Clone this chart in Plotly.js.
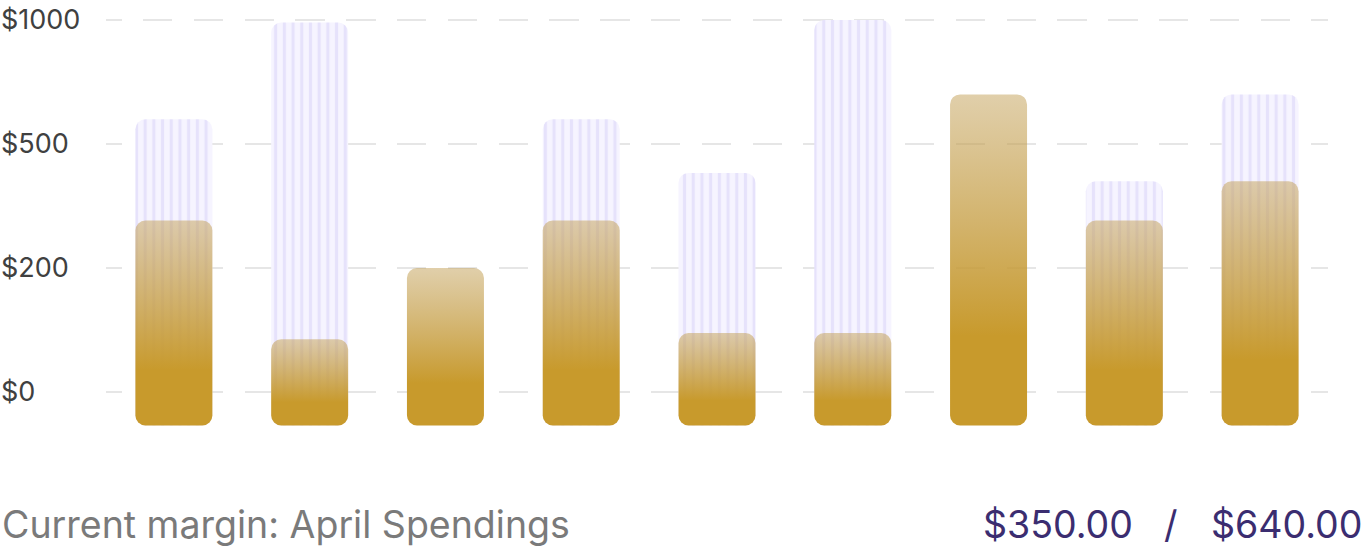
<!DOCTYPE html>
<html><head><meta charset="utf-8">
<script src="https://cdn.plot.ly/plotly-3.0.1.min.js"></script>
<style>html,body{margin:0;padding:0;background:#fff;} #chart{width:1366px;height:552px;}</style>
</head><body><div id="chart"></div>
<script>
// ---- data ----
const months = ['Jan','Feb','Mar','Apr','May','Jun','Jul','Aug','Sep'];
const spent  = [315, 85, 200, 315, 95, 95, 700, 315, 410];
const budget = [600, 990, null, 600, 430, 1000, null, 410, 700];
const tickValues = [0, 200, 500, 1000];
const tickLabels = ['$0', '$200', '$500', '$1000'];
const footerLabel = 'Current margin: April Spendings';
const footerSpent = '$350.00';
const footerBudget = '$640.00';

// piecewise-linear scale: each tick interval occupies one equal band on the axis
function toAxis(v){
  if (v == null) return null;
  const t = tickValues;
  let i = 0;
  while (i < t.length - 2 && v > t[i+1]) i++;
  return i + (v - t[i]) / (t[i+1] - t[i]);
}
const BASE = -0.27;
const tickPos = tickValues.map(toAxis);

const W = 1366, H = 552, MT = 10, MB = 112;
const plotH = H - MT - MB;
const py = Y => (H - MB - Y) / plotH;   // pixel -> paper y
const px = X => X / W;

const data = [
  {
    type: 'bar', x: months,
    y: budget.map(v => v == null ? null : toAxis(v) - BASE),
    base: BASE,
    marker: {
      color: '#f5f3ff',
      line: {width: 0},
      pattern: {shape: '|', fgcolor: '#e6e2fb', bgcolor: '#f6f4ff', size: 8.7, solidity: 0.35}
    },
    hoverinfo: 'skip'
  },
  {
    type: 'bar', x: months,
    y: spent.map(v => toAxis(v) - BASE),
    base: BASE,
    marker: {color: '#c89a2c', line: {width: 0}},
    hoverinfo: 'skip'
  }
];

let dash = '15.5px,21.5px';
for (let i = 0; i < 30; i++) dash += ',29.3px,21.5px';

const FOOT = 37.5;
const layout = {
  width: W, height: H,
  margin: {l: 0, r: 0, t: MT, b: MB, pad: 0},
  paper_bgcolor: '#ffffff', plot_bgcolor: '#ffffff',
  showlegend: false,
  barmode: 'overlay',
  bargap: 0.433,
  barcornerradius: 10,
  font: {family: 'Inter, sans-serif'},
  xaxis: {
    domain: [106 / W, 1328 / W],
    type: 'category', range: [-0.5, 8.5],
    showticklabels: false, showgrid: false, zeroline: false, showline: false, ticks: ''
  },
  yaxis: {
    anchor: 'free', position: 0,
    range: [-(H - MB - 392) / 124, 3 + (20 - MT) / 124],
    tickmode: 'array', tickvals: tickPos, ticktext: tickLabels,
    ticklabelposition: 'inside', ticklabeloverflow: 'allow', ticklabelstandoff: -3,
    ticks: '', showline: false, zeroline: false,
    showgrid: true, gridcolor: '#e6e6e6', gridwidth: 1.2, griddash: dash,
    tickfont: {family: 'Inter, sans-serif', size: 27, color: '#404040'}
  },
  annotations: [
    {xref: 'paper', yref: 'paper', x: 0, y: py(524), xanchor: 'left', yanchor: 'middle',
     text: footerLabel, showarrow: false, font: {family: 'Inter, sans-serif', size: FOOT, color: '#7a7a7a'}},
    {xref: 'paper', yref: 'paper', x: px(1135), y: py(524), xanchor: 'right', yanchor: 'middle',
     text: footerSpent, showarrow: false, font: {family: 'Inter, sans-serif', size: FOOT, color: '#3b2d70'}},
    {xref: 'paper', yref: 'paper', x: px(1171), y: py(524), xanchor: 'center', yanchor: 'middle',
     text: '/', showarrow: false, font: {family: 'Inter, sans-serif', size: FOOT, color: '#3b2d70'}},
    {xref: 'paper', yref: 'paper', x: px(1364), y: py(524), xanchor: 'right', yanchor: 'middle',
     text: footerBudget, showarrow: false, font: {family: 'Inter, sans-serif', size: FOOT, color: '#3b2d70'}}
  ]
};

function roundedRect(x, y, w, h, r){
  r = Math.min(r, w / 2, h / 2);
  return 'M' + (x + r) + ',' + y +
    'H' + (x + w - r) + 'A' + r + ',' + r + ' 0 0 1 ' + (x + w) + ',' + (y + r) +
    'V' + (y + h - r) + 'A' + r + ',' + r + ' 0 0 1 ' + (x + w - r) + ',' + (y + h) +
    'H' + (x + r) + 'A' + r + ',' + r + ' 0 0 1 ' + x + ',' + (y + h - r) +
    'V' + (y + r) + 'A' + r + ',' + r + ' 0 0 1 ' + (x + r) + ',' + y + 'Z';
}

Plotly.newPlot('chart', data, layout, {staticPlot: true, displayModeBar: false}).then(gd => {
  const NS = 'http://www.w3.org/2000/svg';
  const svg = gd.querySelector('svg.main-svg');
  let defs = svg.querySelector('defs');
  if (!defs) { defs = document.createElementNS(NS, 'defs'); svg.insertBefore(defs, svg.firstChild); }
  const lg = document.createElementNS(NS, 'linearGradient');
  lg.setAttribute('id', 'goldFade');
  lg.setAttribute('x1', '0'); lg.setAttribute('y1', '0');
  lg.setAttribute('x2', '0'); lg.setAttribute('y2', '1');
  [[0, '#c29f55', 0.5], [0.73, '#c89a2c', 1], [1, '#c89a2c', 1]].forEach(([o, c, a]) => {
    const s = document.createElementNS(NS, 'stop');
    s.setAttribute('offset', o);
    s.setAttribute('stop-color', c);
    s.setAttribute('stop-opacity', a);
    lg.appendChild(s);
  });
  defs.appendChild(lg);
  const traces = gd.querySelectorAll('.barlayer .trace');
  traces.forEach((tr, ti) => {
    tr.querySelectorAll('.point path').forEach(p => {
      const b = p.getBBox();
      if (!b.width || !b.height) return;
      p.setAttribute('d', roundedRect(b.x, b.y, b.width, b.height, 10));
      if (ti === 1) { p.style.fill = 'url(#goldFade)'; p.style.fillOpacity = 1; }
    });
  });
});
</script>
</body></html>
